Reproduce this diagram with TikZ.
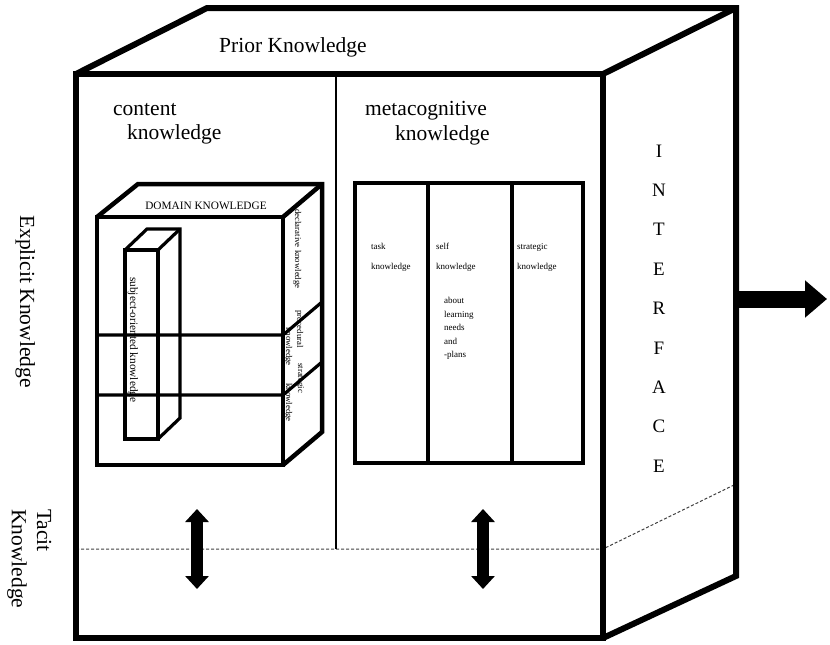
\documentclass[tikz,border=0pt]{standalone}
\usepackage{fontspec}
\setmainfont{Liberation Serif}
\usetikzlibrary{arrows.meta}

\tikzset{
  heavy/.style={line width=6pt, line join=miter},
  boxline/.style={line width=4.5pt, line join=miter},
  midline/.style={line width=3.2pt, line join=miter},
  thinline/.style={line width=1.3pt},
  dotline/.style={line width=1pt, dash pattern=on 3pt off 2pt, black!75},
  lbl/.style={inner sep=0pt, font=\fontsize{21.5}{24}\selectfont},
  sidelbl/.style={lbl, rotate=-90, anchor=base west},
  iflbl/.style={inner sep=0pt, anchor=base, font=\fontsize{19}{22}\selectfont},
  dom/.style={inner sep=0pt, font=\fontsize{11.3}{13}\selectfont},
  tiny/.style={inner sep=0pt, anchor=base west, font=\fontsize{9}{11}\selectfont},
  facelbl/.style={inner sep=0pt, rotate=-90, anchor=base west, font=\fontsize{8.8}{10}\selectfont},
  twoway/.style={line width=12pt, {Triangle[width=23pt,length=13pt]}-{Triangle[width=23pt,length=13pt]}},
  oneway/.style={line width=17pt, -{Triangle[width=36pt,length=22pt]}}
}

\begin{document}
\begin{tikzpicture}[x=1pt,y=-1pt]
\useasboundingbox (0,0) rectangle (830,645);

% ---------- outer box: prior knowledge ----------
\coordinate (FTL) at (76,74);
\coordinate (FTR) at (603,74);
\coordinate (FBR) at (603,638);
\coordinate (FBL) at (76,638);
\coordinate (BTL) at (207,8);
\coordinate (BTR) at (736,8);
\coordinate (BBR) at (736,576);

% tacit / explicit border and column divider
\coordinate (DL) at (76,549);
\coordinate (DM) at (336,549);
\coordinate (DR) at (603,549);
\coordinate (DB) at (736,484);
\coordinate (TM) at (336,74);
\draw[dotline] (DL) -- (DR) -- (DB);
\draw[thinline] (TM) -- (DM);

\draw[heavy] (FTL) -- (FTR) -- (FBR) -- (FBL) -- cycle;
\draw[heavy] (FTL) -- (BTL) -- (BTR) -- (BBR) -- (FBR);
\draw[heavy] (FTR) -- (BTR);

% ---------- domain knowledge cube ----------
\coordinate (dA) at (97,217);
\coordinate (dB) at (283,217);
\coordinate (dC) at (283,465);
\coordinate (dD) at (97,465);
\coordinate (dE) at (138,184);
\coordinate (dF) at (322,184);
\coordinate (dG) at (322,432);
\coordinate (h1l) at (97,335);
\coordinate (h1r) at (283,335);
\coordinate (h1b) at (322,302);
\coordinate (h2l) at (97,395);
\coordinate (h2r) at (283,395);
\coordinate (h2b) at (322,362);
\draw[midline] (h1l) -- (h1r) -- (h1b);
\draw[midline] (h2l) -- (h2r) -- (h2b);
\draw[boxline] (dA) -- (dB) -- (dC) -- (dD) -- cycle;
\draw[boxline] (dA) -- (dE) -- (dF) -- (dG) -- (dC);
\draw[boxline] (dB) -- (dF);

% subject-oriented column
\coordinate (sA) at (125,250);
\coordinate (sB) at (158,250);
\coordinate (sC) at (158,439);
\coordinate (sD) at (125,439);
\coordinate (sE) at (147,229);
\coordinate (sF) at (180,229);
\coordinate (sG) at (180,418);
\draw[midline] (sA) -- (sB) -- (sC) -- (sD) -- cycle;
\draw[midline] (sA) -- (sE) -- (sF) -- (sG) -- (sC);
\draw[midline] (sB) -- (sF);

\node[dom, anchor=base] (domain) at (206,209) {DOMAIN KNOWLEDGE};
\node[dom, rotate=-90, anchor=base west] (subj) at (130,277) {subject-oriented knowledge};
\node[facelbl] (decl) at (295,209) {declarative knowledge};
\node[facelbl] (proc1) at (297,310) {procedural};
\node[facelbl] (proc2) at (286,327) {knowledge};
\node[facelbl] (strat1) at (298,363) {strategic};
\node[facelbl] (strat2) at (286,383) {knowledge};

% ---------- metacognitive knowledge panel ----------
\coordinate (mA) at (355,183);
\coordinate (mB) at (583,183);
\coordinate (mC) at (583,463);
\coordinate (mD) at (355,463);
\coordinate (m1t) at (428,183);
\coordinate (m1b) at (428,463);
\coordinate (m2t) at (512,183);
\coordinate (m2b) at (512,463);
\draw[midline] (mA) -- (mB) -- (mC) -- (mD) -- cycle;
\draw[midline] (m1t) -- (m1b);
\draw[midline] (m2t) -- (m2b);

\node[tiny] (task) at (371,249) {task};
\node[tiny] (taskk) at (371,269) {knowledge};
\node[tiny] (self) at (436,249) {self};
\node[tiny] (selfk) at (436,269) {knowledge};
\node[tiny] (strg) at (517,249) {strategic};
\node[tiny] (strgk) at (517,269) {knowledge};
\node[tiny] (ab1) at (444,303) {about};
\node[tiny] (ab2) at (444,317) {learning};
\node[tiny] (ab3) at (444,330) {needs};
\node[tiny] (ab4) at (444,344) {and};
\node[tiny] (ab5) at (444,357) {-plans};

% ---------- main labels ----------
\node[lbl, anchor=base west] (prior) at (219,52) {Prior Knowledge};
\node[lbl, anchor=base west] (cont1) at (113,115) {content};
\node[lbl, anchor=base west] (cont2) at (127,139) {knowledge};
\node[lbl, anchor=base west] (meta1) at (365,115) {metacognitive};
\node[lbl, anchor=base west] (meta2) at (395,140) {knowledge};

\node[sidelbl] (explicit) at (20,215) {Explicit Knowledge};
\node[sidelbl] (tacit1) at (37,509) {Tacit};
\node[sidelbl] (tacit2) at (12,509) {Knowledge};

% interface letters
\foreach \ch [count=\i from 0] in {I,N,T,E,R,F,A,C,E}
  \node[iflbl] (if\i) at (659,{157+39.4*\i}) {\ch};

% ---------- arrows ----------
\coordinate (a1t) at (197,509);
\coordinate (a1b) at (197,589);
\coordinate (a2t) at (483,509);
\coordinate (a2b) at (483,589);
\draw[twoway] (a1t) -- (a1b);
\draw[twoway] (a2t) -- (a2b);

\coordinate (out0) at (736,299);
\coordinate (out1) at (827,299);
\draw[oneway] (out0) -- (out1);
\end{tikzpicture}
\end{document}
